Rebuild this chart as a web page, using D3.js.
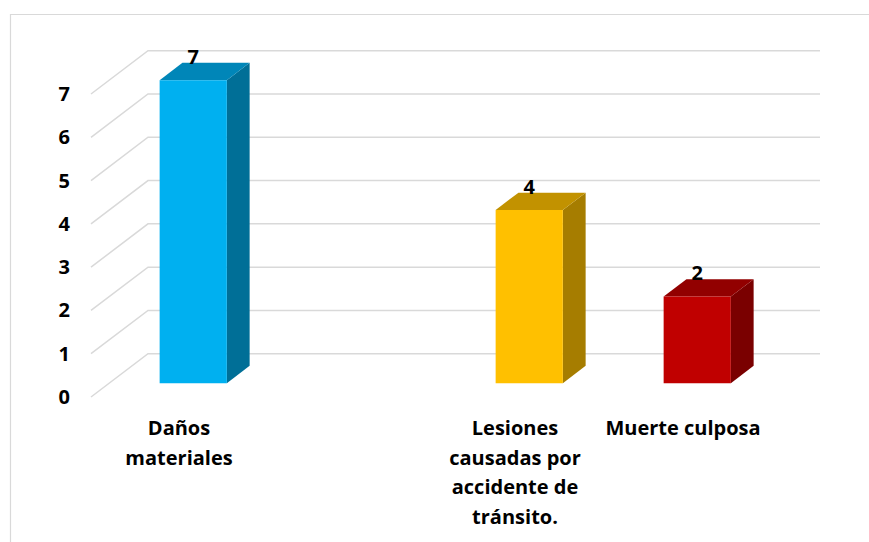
<!DOCTYPE html>
<html>
<head>
<meta charset="utf-8">
<script src="https://cdn.jsdelivr.net/npm/d3@7"></script>
<style>
  body { margin: 0; background: #fff; }
  svg { display: block; font-family: "Open Sans", Lato, sans-serif; }
</style>
</head>
<body>
<svg id="chart" width="869" height="542"></svg>
<script>
const categories = ["Daños materiales", "", "Lesiones causadas por accidente de tránsito.", "Muerte culposa"];
const values = [7, null, 4, 2];
const categoryLines = [["Daños", "materiales"], [], ["Lesiones", "causadas por", "accidente de", "tránsito."], ["Muerte culposa"]];
const yTicks = [0, 1, 2, 3, 4, 5, 6, 7];
const frontColors = ["#00B0F0", null, "#FFC000", "#C00000"];
const sideColors = ["#006F97", null, "#A67D00", "#7A0000"];
const topColors = ["#0086B8", null, "#C29200", "#920000"];

const svg = d3.select("#chart");

// frame
svg.append("path")
    .attr("d", "M10.5,542 L10.5,14.5 L869,14.5")
    .attr("fill", "none")
    .attr("stroke", "#d9d9d9")
    .attr("stroke-width", 1.2);

const x = d3.scaleBand()
    .domain(d3.range(categories.length))
    .range([91, 763])
    .paddingInner(0.6)
    .paddingOuter(0.3);

const xCat = d3.scaleBand()
    .domain(d3.range(categories.length))
    .range([91, 763]);

const y = d3.scaleLinear().domain([0, 7]).range([397, 94]);

// depth projection
const depthX = d3.scaleLinear().domain([0, 1]).range([0, 57]);
const depthY = d3.scaleLinear().domain([0, 1]).range([0, -43.3]);

const grid = svg.append("g")
    .attr("stroke", "#d9d9d9")
    .attr("stroke-width", 1.5)
    .attr("fill", "none");

grid.selectAll("path")
    .data(yTicks)
    .join("path")
    .attr("d", d => {
        const yf = y(d);
        return `M91,${yf} L${91 + depthX(1)},${yf + depthY(1)} L${763 + depthX(1)},${yf + depthY(1)}`;
    });

svg.append("g")
    .selectAll("text")
    .data(yTicks)
    .join("text")
    .attr("x", 70)
    .attr("y", d => y(d))
    .attr("dy", "0.35em")
    .attr("text-anchor", "end")
    .attr("font-size", 20)
    .attr("font-weight", "bold")
    .attr("fill", "#000")
    .text(d => d);

// bars
const zFront = 0.32, zBack = 0.72;
const bars = categories.map((c, i) => ({ i, v: values[i] })).filter(d => d.v != null);

const barG = svg.append("g")
    .selectAll("g")
    .data(bars)
    .join("g");

function pt(px, py, z) {
    return [px + depthX(z), py + depthY(z)];
}

barG.append("polygon") // side
    .attr("fill", d => sideColors[d.i])
    .attr("points", d => {
        const r = x(d.i) + x.bandwidth();
        return [pt(r, y(0), zFront), pt(r, y(0), zBack), pt(r, y(d.v), zBack), pt(r, y(d.v), zFront)].join(" ");
    });

barG.append("polygon") // top
    .attr("fill", d => topColors[d.i])
    .attr("points", d => {
        const l = x(d.i), r = l + x.bandwidth(), t = y(d.v);
        return [pt(l, t, zFront), pt(l, t, zBack), pt(r, t, zBack), pt(r, t, zFront)].join(" ");
    });

barG.append("polygon") // front
    .attr("fill", d => frontColors[d.i])
    .attr("points", d => {
        const l = x(d.i), r = l + x.bandwidth();
        return [pt(l, y(0), zFront), pt(r, y(0), zFront), pt(r, y(d.v), zFront), pt(l, y(d.v), zFront)].join(" ");
    });

barG.append("text")
    .attr("x", d => pt(x(d.i) + x.bandwidth() / 2, 0, zFront)[0])
    .attr("y", d => pt(0, y(d.v), zBack)[1] + 1)
    .attr("text-anchor", "middle")
    .attr("font-size", 20)
    .attr("font-weight", "bold")
    .attr("fill", "#000")
    .text(d => d.v);

// category labels
const catG = svg.append("g")
    .selectAll("text")
    .data(categoryLines.map((lines, i) => ({ lines, i })))
    .join("text")
    .attr("text-anchor", "middle")
    .attr("font-size", 20)
    .attr("font-weight", "bold")
    .attr("fill", "#000")
    .attr("transform", d => `translate(${xCat(d.i) + xCat.bandwidth() / 2 + 4},428)`);

catG.selectAll("tspan")
    .data(d => d.lines)
    .join("tspan")
    .attr("x", 0)
    .attr("y", (d, k) => k * 29.5)
    .attr("dy", "0.35em")
    .text(d => d);
</script>
</body>
</html>
